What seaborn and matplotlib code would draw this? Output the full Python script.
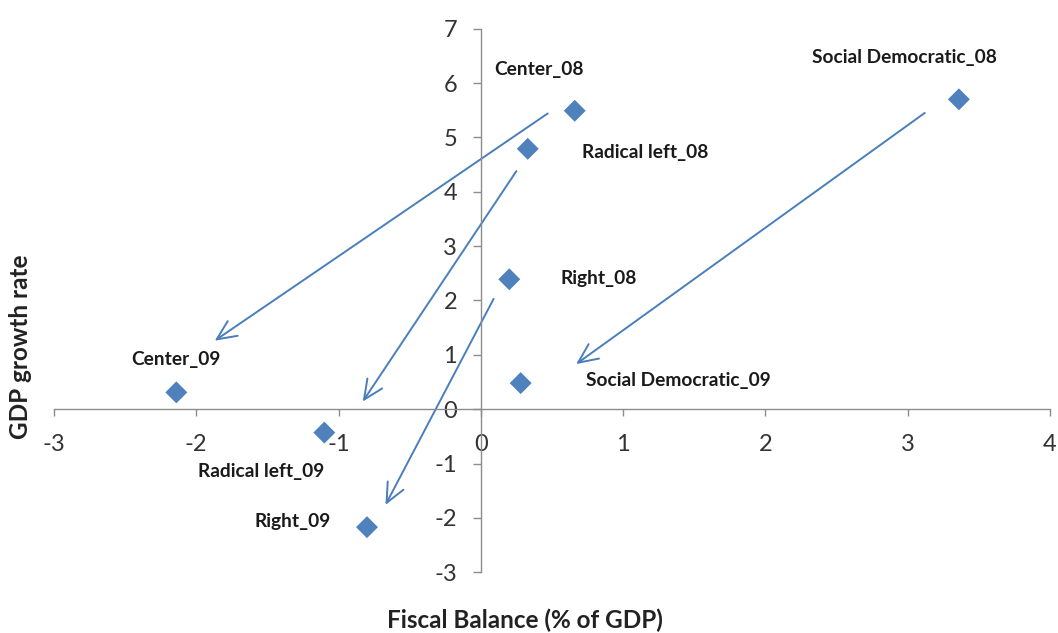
import matplotlib
matplotlib.use("Agg")
import matplotlib.pyplot as plt
import seaborn as sns
import pandas as pd

# ---- data ----
labels = ["Social Democratic_08", "Center_08", "Radical left_08", "Right_08",
          "Social Democratic_09", "Center_09", "Radical left_09", "Right_09"]
fiscal_balance = [3.36, 0.66, 0.33, 0.20, 0.28, -2.14, -1.10, -0.80]
gdp_growth = [5.70, 5.49, 4.79, 2.39, 0.48, 0.31, -0.43, -2.17]

arrow_start_x = [0.47, 0.25, 0.09, 3.12]
arrow_start_y = [5.44, 4.38, 2.03, 5.45]
arrow_end_x = [-1.87, -0.83, -0.67, 0.67]
arrow_end_y = [1.26, 0.14, -1.76, 0.83]

x_ticks = [-3, -2, -1, 0, 1, 2, 3, 4]
y_ticks = [-3, -2, -1, 0, 1, 2, 3, 4, 5, 6, 7]

# ---- style ----
sns.set_style("white")
plt.rcParams['font.family'] = ['Lato', 'DejaVu Sans']
plt.rcParams['axes.unicode_minus'] = False

label_offsets_px = [(-54, 42), (-36, 41), (117, -4), (89, 1),
                    (158, 3), (0, 33), (-63, -39), (-74, 6)]

blue = "#4F81BD"
arrow_blue = "#4A7EBB"
spine_gray = "#8C8C8C"

df = pd.DataFrame({"x": fiscal_balance, "y": gdp_growth, "label": labels})

fig = plt.figure(figsize=(10.58, 6.33), dpi=100)
ax = fig.add_axes([0.051, 0.0959, 0.9414, 0.8588])

sns.scatterplot(data=df, x="x", y="y", marker="D", s=125, color=blue,
                edgecolor="none", ax=ax, zorder=3, legend=False)

ax.set_xlim(-3, 4)
ax.set_ylim(-3, 7)
ax.set_xticks(x_ticks)
ax.set_yticks(y_ticks)
ax.set_xlabel("")
ax.set_ylabel("")

for side in ["top", "right"]:
    ax.spines[side].set_visible(False)
ax.spines["left"].set_position(("data", 0))
ax.spines["bottom"].set_position(("data", 0))
for side in ["left", "bottom"]:
    ax.spines[side].set_color(spine_gray)
    ax.spines[side].set_linewidth(1.0)

ax.tick_params(axis="x", direction="out", length=5, width=1, color=spine_gray,
               labelsize=17, labelcolor="#333333", pad=13, bottom=True)
ax.tick_params(axis="y", direction="out", length=6, width=1, color=spine_gray,
               labelsize=17, labelcolor="#333333", pad=11, left=True)

for xs, ys, xe, ye in zip(arrow_start_x, arrow_start_y, arrow_end_x, arrow_end_y):
    ax.annotate("", xy=(xe, ye), xytext=(xs, ys),
                arrowprops=dict(arrowstyle="->,head_length=0.7,head_width=0.32",
                                color=arrow_blue, lw=1.4, shrinkA=0, shrinkB=0,
                                mutation_scale=20),
                zorder=2)

for lab, x, y, (dx, dy) in zip(labels, fiscal_balance, gdp_growth, label_offsets_px):
    ax.annotate(lab, xy=(x, y), xytext=(dx, dy), textcoords="offset pixels",
                ha="center", va="center", fontsize=13.8, fontweight="bold",
                color="#1a1a1a")

fig.text(0.496, 0.02, "Fiscal Balance (% of GDP)", ha="center", va="center",
         fontsize=17.5, fontweight="bold", color="#222222")
fig.text(0.019, 0.452, "GDP growth rate", ha="center", va="center",
         rotation=90, fontsize=17.5, fontweight="bold", color="#222222")

fig.savefig("out.png", dpi=100, facecolor="white")
